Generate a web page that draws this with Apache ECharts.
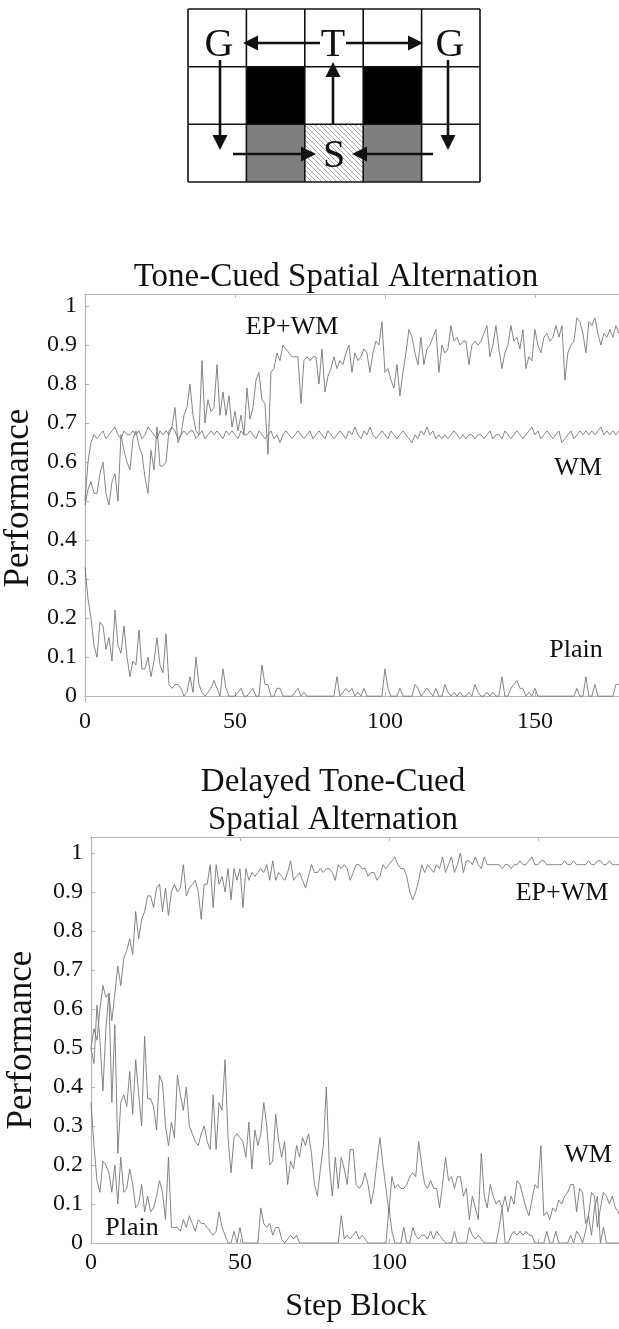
<!DOCTYPE html>
<html>
<head>
<meta charset="utf-8">
<script src="https://cdn.jsdelivr.net/npm/echarts@6/dist/echarts.min.js"></script>
<style>
html, body { margin: 0; padding: 0; background: #fff; }
#main { width: 619px; height: 1329px; }
</style>
</head>
<body>
<div id="main"></div>
<script>
// performance per step block (index = step block)
var yTicks = [0, 0.1, 0.2, 0.3, 0.4, 0.5, 0.6, 0.7, 0.8, 0.9, 1];
var xTicks = [0, 50, 100, 150];

// top panel: Tone-Cued Spatial Alternation
var c1EpWm = [
  0.49,0.53,0.55,0.52,0.52,0.57,0.60,0.52,0.49,0.55,
  0.57,0.50,0.67,0.63,0.60,0.58,0.66,0.68,0.64,0.62,
  0.56,0.52,0.63,0.58,0.69,0.59,0.59,0.60,0.68,0.69,
  0.74,0.65,0.67,0.72,0.74,0.80,0.72,0.68,0.67,0.86,
  0.70,0.76,0.73,0.74,0.85,0.72,0.78,0.72,0.77,0.69,
  0.73,0.68,0.72,0.67,0.79,0.71,0.74,0.81,0.83,0.76,
  0.75,0.62,0.83,0.84,0.88,0.86,0.90,0.89,0.88,0.87,
  0.87,0.87,0.75,0.86,0.87,0.86,0.87,0.87,0.80,0.89,
  0.78,0.82,0.84,0.87,0.84,0.86,0.85,0.88,0.90,0.83,
  0.88,0.86,0.87,0.89,0.88,0.83,0.88,0.91,0.90,0.96,
  0.83,0.84,0.81,0.79,0.85,0.77,0.83,0.88,0.94,0.92,
  0.88,0.85,0.92,0.85,0.89,0.90,0.92,0.94,0.83,0.90,
  0.88,0.89,0.95,0.91,0.92,0.90,0.91,0.91,0.85,0.90,
  0.91,0.90,0.91,0.93,0.95,0.87,0.90,0.95,0.89,0.84,
  0.88,0.90,0.95,0.91,0.92,0.89,0.94,0.84,0.87,0.86,
  0.94,0.90,0.88,0.92,0.93,0.91,0.92,0.95,0.92,0.95,
  0.81,0.88,0.90,0.91,0.97,0.96,0.93,0.88,0.96,0.95,
  0.97,0.93,0.90,0.93,0.92,0.94,0.92,0.95,0.93
];
var c1Wm = [
  0.50,0.60,0.65,0.67,0.66,0.67,0.68,0.66,0.67,0.68,
  0.69,0.67,0.66,0.68,0.67,0.67,0.68,0.67,0.68,0.66,
  0.67,0.69,0.68,0.67,0.66,0.68,0.67,0.68,0.67,0.69,
  0.68,0.66,0.67,0.68,0.67,0.68,0.68,0.66,0.67,0.68,
  0.66,0.67,0.68,0.67,0.68,0.67,0.66,0.68,0.67,0.68,
  0.67,0.66,0.68,0.67,0.67,0.68,0.67,0.66,0.68,0.67,
  0.66,0.67,0.68,0.66,0.67,0.65,0.67,0.68,0.67,0.66,
  0.67,0.68,0.67,0.66,0.67,0.68,0.66,0.67,0.68,0.67,
  0.66,0.68,0.67,0.66,0.67,0.68,0.67,0.66,0.68,0.67,
  0.69,0.67,0.66,0.68,0.67,0.69,0.67,0.66,0.67,0.68,
  0.67,0.66,0.68,0.67,0.66,0.67,0.68,0.67,0.66,0.65,
  0.67,0.66,0.68,0.67,0.69,0.67,0.68,0.66,0.67,0.66,
  0.67,0.66,0.67,0.68,0.67,0.66,0.67,0.66,0.67,0.67,
  0.66,0.67,0.67,0.66,0.67,0.68,0.66,0.67,0.67,0.66,
  0.68,0.67,0.66,0.67,0.68,0.67,0.66,0.67,0.68,0.69,
  0.67,0.68,0.66,0.67,0.68,0.67,0.66,0.67,0.68,0.65,
  0.66,0.67,0.68,0.66,0.67,0.68,0.67,0.68,0.67,0.68,
  0.67,0.68,0.69,0.67,0.68,0.67,0.68,0.67,0.68
];
var c1Plain = [
  0.33,0.25,0.20,0.13,0.10,0.19,0.18,0.12,0.15,0.09,
  0.22,0.13,0.11,0.18,0.10,0.05,0.09,0.08,0.17,0.07,
  0.07,0.10,0.05,0.09,0.15,0.08,0.06,0.16,0.03,0.02,
  0.03,0.03,0.02,0,0.01,0.05,0.01,0.10,0.03,0.01,
  0,0.01,0.02,0.04,0.02,0,0.07,0.02,0,0,
  0,0.01,0.02,0,0,0.01,0.02,0,0,0.08,
  0.03,0.03,0,0,0.02,0.02,0,0,0,0,
  0.01,0.02,0,0.01,0,0,0,0,0,0,
  0,0,0,0,0.05,0,0.01,0.02,0.01,0.02,
  0,0.01,0,0.02,0,0,0,0,0,0,
  0.07,0.02,0,0,0,0.02,0,0,0,0,
  0.03,0.02,0,0.01,0.02,0.01,0,0.02,0,0,
  0.03,0.01,0,0.01,0,0.01,0,0,0.01,0,
  0.03,0.01,0,0,0.01,0,0.01,0,0,0.05,
  0,0,0.02,0.03,0.04,0.02,0.02,0,0.01,0,
  0.02,0,0,0,0,0,0,0,0,0,
  0,0,0,0,0.02,0,0,0.05,0,0,
  0.03,0,0,0,0,0,0,0.03,0.03
];

// bottom panel: Delayed Tone-Cued Spatial Alternation
var c2EpWm = [
  0.50,0.55,0.52,0.60,0.66,0.63,0.64,0.57,0.64,0.71,
  0.66,0.73,0.75,0.78,0.74,0.85,0.78,0.83,0.85,0.89,
  0.89,0.86,0.91,0.92,0.85,0.91,0.84,0.90,0.92,0.90,
  0.91,0.97,0.89,0.91,0.92,0.93,0.90,0.83,0.92,0.92,
  0.97,0.86,0.97,0.92,0.94,0.90,0.96,0.88,0.96,0.93,
  0.96,0.86,0.96,0.93,0.95,0.94,0.95,0.96,0.95,0.97,
  0.93,0.98,0.93,0.95,0.94,0.93,0.95,0.98,0.93,0.94,
  0.95,0.93,0.91,0.94,0.97,0.95,0.95,0.96,0.95,0.96,
  0.96,0.95,0.93,0.97,0.96,0.97,0.96,0.93,0.95,0.97,
  0.97,0.96,0.96,0.94,0.95,0.95,0.93,0.94,0.97,0.96,
  0.97,0.98,0.99,0.97,0.96,0.96,0.94,0.90,0.88,0.90,
  0.93,0.97,0.95,0.97,0.96,0.95,0.97,0.96,0.99,0.95,
  0.97,0.99,0.95,0.97,1.00,0.95,0.98,0.98,0.97,0.99,
  0.97,0.96,0.99,0.97,0.97,0.97,0.97,0.97,0.96,0.97,
  0.97,0.96,0.97,0.97,0.98,0.97,0.97,0.98,0.99,0.97,
  0.97,0.98,0.98,0.97,0.97,0.97,0.97,0.97,0.97,0.98,
  0.97,0.97,0.98,0.97,0.97,0.97,0.97,0.98,0.97,0.97,
  0.98,0.98,0.97,0.97,0.98,0.97,0.97,0.97,0.97
];
var c2Wm = [
  0.50,0.46,0.61,0.52,0.39,0.55,0.64,0.36,0.56,0.23,
  0.36,0.38,0.35,0.44,0.33,0.47,0.38,0.30,0.53,0.37,
  0.37,0.35,0.29,0.43,0.41,0.30,0.25,0.31,0.27,0.43,
  0.38,0.34,0.40,0.30,0.28,0.26,0.25,0.28,0.30,0.26,
  0.24,0.38,0.24,0.36,0.34,0.47,0.27,0.18,0.27,0.28,
  0.27,0.26,0.22,0.31,0.19,0.29,0.25,0.28,0.36,0.30,
  0.20,0.21,0.33,0.26,0.22,0.26,0.15,0.21,0.19,0.25,
  0.22,0.27,0.25,0.28,0.23,0.15,0.12,0.19,0.25,0.40,
  0.20,0.12,0.22,0.14,0.22,0.19,0.15,0.24,0.24,0.15,
  0.14,0.15,0.18,0.15,0.10,0.14,0.21,0.27,0.20,0.14,
  0.08,0.17,0.14,0.15,0.14,0.14,0.15,0.17,0.18,0.17,
  0.26,0.20,0.15,0.14,0.16,0.14,0.14,0.09,0.15,0.22,
  0.16,0.17,0.14,0.17,0.17,0.12,0.14,0.06,0.12,0.09,
  0.06,0.23,0.12,0.09,0.15,0.12,0.10,0.11,0.09,0.12,
  0.08,0.12,0.10,0.16,0.15,0.12,0.09,0.07,0.11,0.15,
  0.14,0.25,0.07,0.08,0.06,0.09,0.08,0.11,0.10,0.12,
  0.13,0.15,0.15,0.08,0.14,0.13,0.05,0.07,0.13,0.12,
  0.04,0.09,0.13,0.12,0.10,0.12,0.09,0.08,0.06
];
var c2Plain = [
  0.36,0.25,0.16,0.13,0.21,0.20,0.18,0.13,0.20,0.10,
  0.22,0.13,0.14,0.19,0.15,0.09,0.10,0.15,0.08,0.12,
  0.08,0.09,0.12,0.16,0.13,0.06,0.22,0.04,0.04,0.04,
  0.03,0.06,0.04,0.07,0.05,0.03,0.06,0.05,0.05,0.04,
  0.03,0.02,0.03,0.08,0.04,0.02,0,0,0.03,0,
  0.04,0,0,0,0,0,0,0.09,0.05,0.04,
  0.05,0.02,0.04,0.04,0.01,0,0.01,0.02,0.01,0.02,
  0,0,0,0,0,0,0,0,0,0,
  0,0,0,0,0.07,0.01,0.02,0.01,0.02,0.03,
  0.01,0.02,0.01,0,0,0,0,0,0,0,
  0.09,0.03,0,0,0,0.04,0,0,0.04,0.02,
  0.01,0.02,0.02,0.01,0.03,0.01,0.03,0.02,0.01,0,
  0,0,0.03,0,0,0,0,0.04,0.02,0.01,
  0.02,0.01,0,0,0,0,0,0.04,0.09,0,
  0,0.02,0.03,0.02,0.03,0.02,0.03,0.02,0.02,0,
  0,0,0,0.03,0,0,0.03,0,0,0,
  0,0.02,0,0.03,0.02,0,0.03,0.07,0.02,0.09,
  0.12,0,0.04,0,0,0,0,0,0
];

var serif = '"Liberation Serif", "DejaVu Serif", serif';
var ink = '#111';
var axisGray = '#b4b4b4';
var lineGray = '#777';

function pairs(arr) {
  return arr.map(function (v, i) { return [i, v]; });
}

// hatch pattern for the start cell
var hatch = document.createElement('canvas');
hatch.width = 5; hatch.height = 5;
var hc = hatch.getContext('2d');
hc.fillStyle = '#fff';
hc.fillRect(0, 0, 5, 5);
hc.strokeStyle = '#a8a8a8';
hc.lineWidth = 1;
hc.beginPath();
hc.moveTo(0, 0); hc.lineTo(5, 5);
hc.moveTo(-1, 4); hc.lineTo(1, 6);
hc.moveTo(4, -1); hc.lineTo(6, 1);
hc.stroke();

// maze diagram
var gx = [188, 246.4, 304.8, 363.2, 421.6, 480];
var gy = [9, 66.7, 124.3, 182];
var maze = [];
function cell(c, r, fill) {
  maze.push({ type: 'rect', shape: { x: gx[c], y: gy[r], width: gx[c + 1] - gx[c], height: gy[r + 1] - gy[r] }, style: { fill: fill } });
}
cell(1, 1, '#000'); cell(3, 1, '#000');
cell(1, 2, '#7f7f7f'); cell(3, 2, '#7f7f7f');
cell(2, 2, { image: hatch, repeat: 'repeat' });
gx.forEach(function (x) {
  maze.push({ type: 'line', shape: { x1: x, y1: gy[0], x2: x, y2: gy[3] }, style: { stroke: ink, lineWidth: 1.6 } });
});
gy.forEach(function (y) {
  maze.push({ type: 'line', shape: { x1: gx[0], y1: y, x2: gx[5], y2: y }, style: { stroke: ink, lineWidth: 1.6 } });
});
function arrow(x1, y1, x2, y2) {
  var dx = x2 - x1, dy = y2 - y1, len = Math.sqrt(dx * dx + dy * dy);
  var ux = dx / len, uy = dy / len;
  var bx = x2 - ux * 15, by = y2 - uy * 15;
  maze.push({ type: 'line', shape: { x1: x1, y1: y1, x2: bx, y2: by }, style: { stroke: ink, lineWidth: 2.6 } });
  maze.push({ type: 'polygon', shape: { points: [[x2, y2], [bx - uy * 7.5, by + ux * 7.5], [bx + uy * 7.5, by - ux * 7.5]] }, style: { fill: ink } });
}
arrow(320, 43, 243, 43);
arrow(346, 43, 423, 43);
arrow(220, 60, 220, 150);
arrow(448, 60, 448, 150);
arrow(233, 154, 316, 154);
arrow(433, 154, 352, 154);
arrow(333, 125, 333, 62);
function bigText(x, y, t) {
  maze.push({ type: 'text', x: x, y: y, style: { text: t, font: '40px ' + serif, fill: ink, align: 'center', verticalAlign: 'middle' } });
}
bigText(219, 45, 'G');
bigText(333, 45, 'T');
bigText(450, 45, 'G');
bigText(334, 156, 'S');

function label(x, y, t, size) {
  return { type: 'text', x: x, y: y, silent: true,
    style: { text: t, font: size + 'px ' + serif, fill: ink, align: 'center', verticalAlign: 'middle', lineHeight: 38 } };
}
var texts = [
  label(336, 277, 'Tone-Cued Spatial Alternation', 33),
  label(333, 801, 'Delayed Tone-Cued\nSpatial Alternation', 33),
  label(292, 327, 'EP+WM', 26),
  label(578, 468, 'WM', 26),
  label(576, 650, 'Plain', 26),
  label(562, 893, 'EP+WM', 26),
  label(588, 1155, 'WM', 26),
  label(132, 1228, 'Plain', 26)
];

function xAxes(gi, max, withName) {
  var bottom = {
    type: 'value', gridIndex: gi, min: 0, max: max,
    axisLine: { lineStyle: { color: axisGray, width: 1.2 } },
    axisTick: { inside: true, length: 4, customValues: xTicks, lineStyle: { color: axisGray } },
    axisLabel: { customValues: xTicks, fontFamily: serif, fontSize: 24, color: ink, margin: 8 },
    splitLine: { show: false }
  };
  if (withName) {
    bottom.name = 'Step Block';
    bottom.nameLocation = 'middle';
    bottom.nameGap = 48;
    bottom.nameTextStyle = { fontFamily: serif, fontSize: 32, color: ink };
  }
  var top = {
    type: 'value', gridIndex: gi, position: 'top', min: 0, max: max,
    axisLine: { lineStyle: { color: axisGray, width: 1.2 } },
    axisTick: { inside: true, length: 4, customValues: xTicks, lineStyle: { color: axisGray } },
    axisLabel: { show: false },
    splitLine: { show: false }
  };
  return [bottom, top];
}

function yAxis(gi, min, max, gap) {
  return {
    type: 'value', gridIndex: gi, min: min, max: max,
    name: 'Performance', nameLocation: 'middle', nameGap: gap,
    nameTextStyle: { fontFamily: serif, fontSize: 35, color: ink },
    axisLine: { show: true, lineStyle: { color: axisGray, width: 1.2 } },
    axisTick: { show: true, inside: true, length: 4, customValues: yTicks, lineStyle: { color: axisGray } },
    axisLabel: { customValues: yTicks, fontFamily: serif, fontSize: 24, color: ink, margin: 8,
      formatter: function (v) { return String(v); } },
    splitLine: { show: false }
  };
}

function line(arr, xi, yi) {
  return {
    type: 'line', xAxisIndex: xi, yAxisIndex: yi, data: pairs(arr),
    showSymbol: false, symbol: 'none', animation: false,
    lineStyle: { color: lineGray, width: 0.9 }
  };
}

var chart = echarts.init(document.getElementById('main'), null, { renderer: 'canvas' });
chart.setOption({
  backgroundColor: '#fff',
  animation: false,
  grid: [
    { left: 85, top: 294, width: 536, height: 408, outerBoundsMode: 'none', containLabel: false },
    { left: 91, top: 837, width: 530, height: 406, outerBoundsMode: 'none', containLabel: false }
  ],
  xAxis: xAxes(0, 178.7, false).concat(xAxes(1, 177.9, true)),
  yAxis: [
    yAxis(0, -0.015, 1.031, 46),
    yAxis(1, 0, 1.041, 52)
  ],
  series: [
    line(c1Wm, 0, 0),
    line(c1Plain, 0, 0),
    line(c1EpWm, 0, 0),
    line(c2Wm, 2, 1),
    line(c2Plain, 2, 1),
    line(c2EpWm, 2, 1)
  ],
  graphic: { elements: maze.concat(texts) }
});
</script>
</body>
</html>
